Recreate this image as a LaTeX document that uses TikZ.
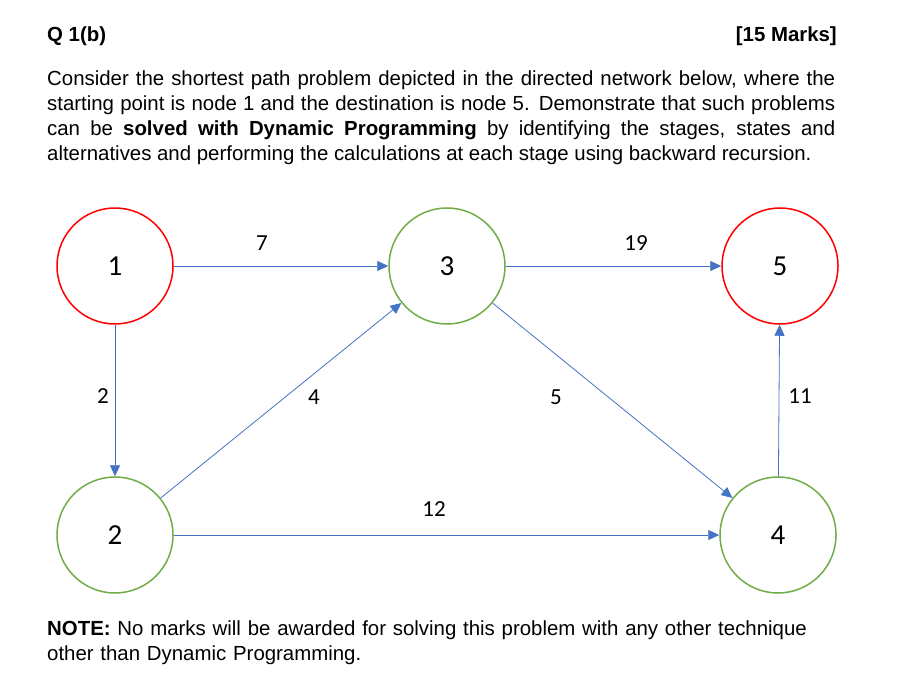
\documentclass[tikz,border=0pt]{standalone}
\usepackage{fontspec}
\setmainfont{Liberation Sans}
\newfontfamily\calib{Carlito}
\usetikzlibrary{arrows.meta}
\definecolor{eblue}{RGB}{68,114,196}
\definecolor{ngreen}{RGB}{112,173,71}
\definecolor{nred}{RGB}{255,0,0}
\tikzset{
 x=1pt,y=1pt,
 gnode/.style={circle,draw=ngreen,line width=1.5pt,minimum size=116pt,inner sep=0pt,font=\calib\fontsize{29}{30}\selectfont},
 rnode/.style={gnode,draw=nred},
 edge/.style={draw=eblue,line width=0.8pt,-{Triangle[length=11pt,width=10pt]}},
 elab/.style={font=\calib\fontsize{23}{24}\selectfont},
 txt/.style={anchor=west,inner sep=0pt,font=\fontsize{20.4}{24.7}\selectfont}
}
\begin{document}
\begin{tikzpicture}
\useasboundingbox (0,0) rectangle (904,694);
\node[txt,font=\bfseries\fontsize{20.4}{24.7}\selectfont] (q) at (47,658) {Q 1(b)};
\node[txt,anchor=east,font=\bfseries\fontsize{20.4}{24.7}\selectfont] (m) at (837,658) {[15 Marks]};
\node[anchor=north west,inner sep=0pt,text width=788pt,align=justify,font=\fontsize{20.4}{24.7}\selectfont] (p) at (47,623)
 {Consider the shortest path problem depicted in the directed network below, where the\linebreak starting point is node 1 and the destination is node 5. Demonstrate that such problems\linebreak can be \textbf{solved with Dynamic Programming} by identifying the stages, states and\linebreak alternatives and performing the calculations at each stage using backward recursion.};
\node[rnode] (n1) at (115,428) {1};
\node[gnode] (n3) at (447,428) {3};
\node[rnode] (n5) at (780,428) {5};
\node[gnode] (n2) at (115,159) {2};
\node[gnode] (n4) at (778,159) {4};
\draw[edge] (n1) -- (n3);
\node[elab] (l7) at (262,451) {7};
\draw[edge] (n3) -- (n5);
\node[elab] (l19) at (636,451) {19};
\draw[edge] (n1) -- (n2);
\node[elab] (l2) at (103,298) {2};
\draw[edge] (n2) -- (n3);
\node[elab] (l4) at (314,297) {4};
\draw[edge] (n3) -- (n4);
\node[elab] (l5) at (556,297) {5};
\draw[edge] (n4) -- (n5);
\node[elab] (l11) at (800,298) {11};
\draw[edge] (n2) -- (n4);
\node[elab] (l12) at (434,185) {12};
\node[anchor=north west,inner sep=0pt,text width=840pt,align=left,font=\fontsize{20.4}{24.7}\selectfont] (note) at (47,73)
 {\textbf{NOTE:} No marks will be awarded for solving this problem with any other technique\\other than Dynamic Programming.};
\end{tikzpicture}
\end{document}
